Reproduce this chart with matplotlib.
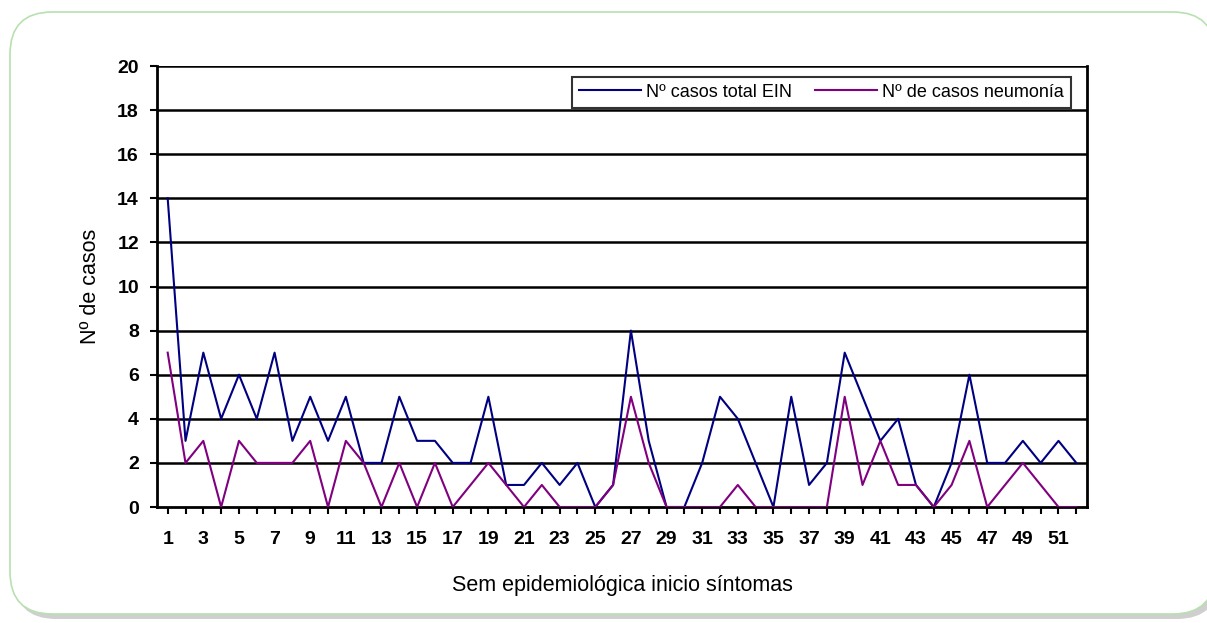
import matplotlib
matplotlib.use("Agg")
import matplotlib.pyplot as plt
from matplotlib.patches import FancyBboxPatch

weeks = list(range(1, 53))
total_ein = [14, 3, 7, 4, 6, 4, 7, 3, 5, 3, 5, 2, 2, 5, 3, 3, 2, 2, 5, 1,
             1, 2, 1, 2, 0, 1, 8, 3, 0, 0, 2, 5, 4, 2, 0, 5, 1, 2, 7, 5,
             3, 4, 1, 0, 2, 6, 2, 2, 3, 2, 3, 2]
neumonia = [7, 2, 3, 0, 3, 2, 2, 2, 3, 0, 3, 2, 0, 2, 0, 2, 0, 1, 2, 1,
            0, 1, 0, 0, 0, 1, 5, 2, 0, 0, 0, 0, 1, 0, 0, 0, 0, 0, 5, 1,
            3, 1, 1, 0, 1, 3, 0, 1, 2, 1, 0, 0]
yticks = list(range(0, 21, 2))
xtick_labels = [str(w) if w % 2 == 1 else "" for w in weeks]

plt.rcParams['font.family'] = ['Liberation Sans', 'DejaVu Sans']

W, H = 1207, 623
fig = plt.figure(figsize=(W / 100, H / 100), dpi=100)
fig.patch.set_facecolor('white')

# shadow and rounded frame
shadow = FancyBboxPatch((14 / W, 4 / H), 1205 / W, 600 / H,
                        boxstyle="round,pad=0,rounding_size=0.035",
                        transform=fig.transFigure, facecolor='#cfcfcf',
                        edgecolor='none', mutation_aspect=W / H, zorder=0)
fig.patches.append(shadow)
frame = FancyBboxPatch((10 / W, 9 / H), 1205 / W, 602 / H,
                       boxstyle="round,pad=0,rounding_size=0.035",
                       transform=fig.transFigure, facecolor='white',
                       edgecolor='#b8e0b0', linewidth=1.2,
                       mutation_aspect=W / H, zorder=1)
fig.patches.append(frame)

ax = fig.add_axes([157 / W, 1 - 507 / H, (1087 - 157) / W, (507 - 66) / H])
ax.set_facecolor('white')
ax.set_zorder(2)

ax.plot(weeks, total_ein, color='#000080', lw=1.5, label='Nº casos total EIN', zorder=3)
ax.plot(weeks, neumonia, color='#800080', lw=1.5, label='Nº de casos neumonía', zorder=3)

ax.set_xlim(0.4, 52.6)
ax.set_ylim(0, 20)
ax.set_yticks(yticks)
ax.set_yticklabels([str(v) for v in yticks], fontsize=14, fontweight='bold')
ax.set_xticks(weeks)
ax.set_xticklabels(xtick_labels, fontsize=14, fontweight='bold')
ax.tick_params(axis='both', direction='out', length=5, width=1.5, color='black')
ax.tick_params(axis='x', pad=12)
ax.tick_params(axis='y', pad=8)

for v in yticks[1:]:
    ax.axhline(v, color='black', lw=1.8, zorder=1)

ax.spines['top'].set_visible(False)
for s in ['left', 'right', 'bottom']:
    ax.spines[s].set_linewidth(2)
    ax.spines[s].set_color('black')

ax.set_ylabel('Nº de casos', fontsize=15.5, labelpad=12)
ax.set_xlabel('Sem epidemiológica inicio síntomas', fontsize=15.5, labelpad=20)

leg = ax.legend(loc='upper right', bbox_to_anchor=(0.983, 0.976), ncol=2,
                frameon=True, fancybox=False, fontsize=13, handlelength=3.4,
                columnspacing=1.3, borderpad=0.4, handletextpad=0.3,
                borderaxespad=0)
leg.get_frame().set_edgecolor('black')
leg.get_frame().set_linewidth(1.5)

fig.savefig('out.png', dpi=100)
